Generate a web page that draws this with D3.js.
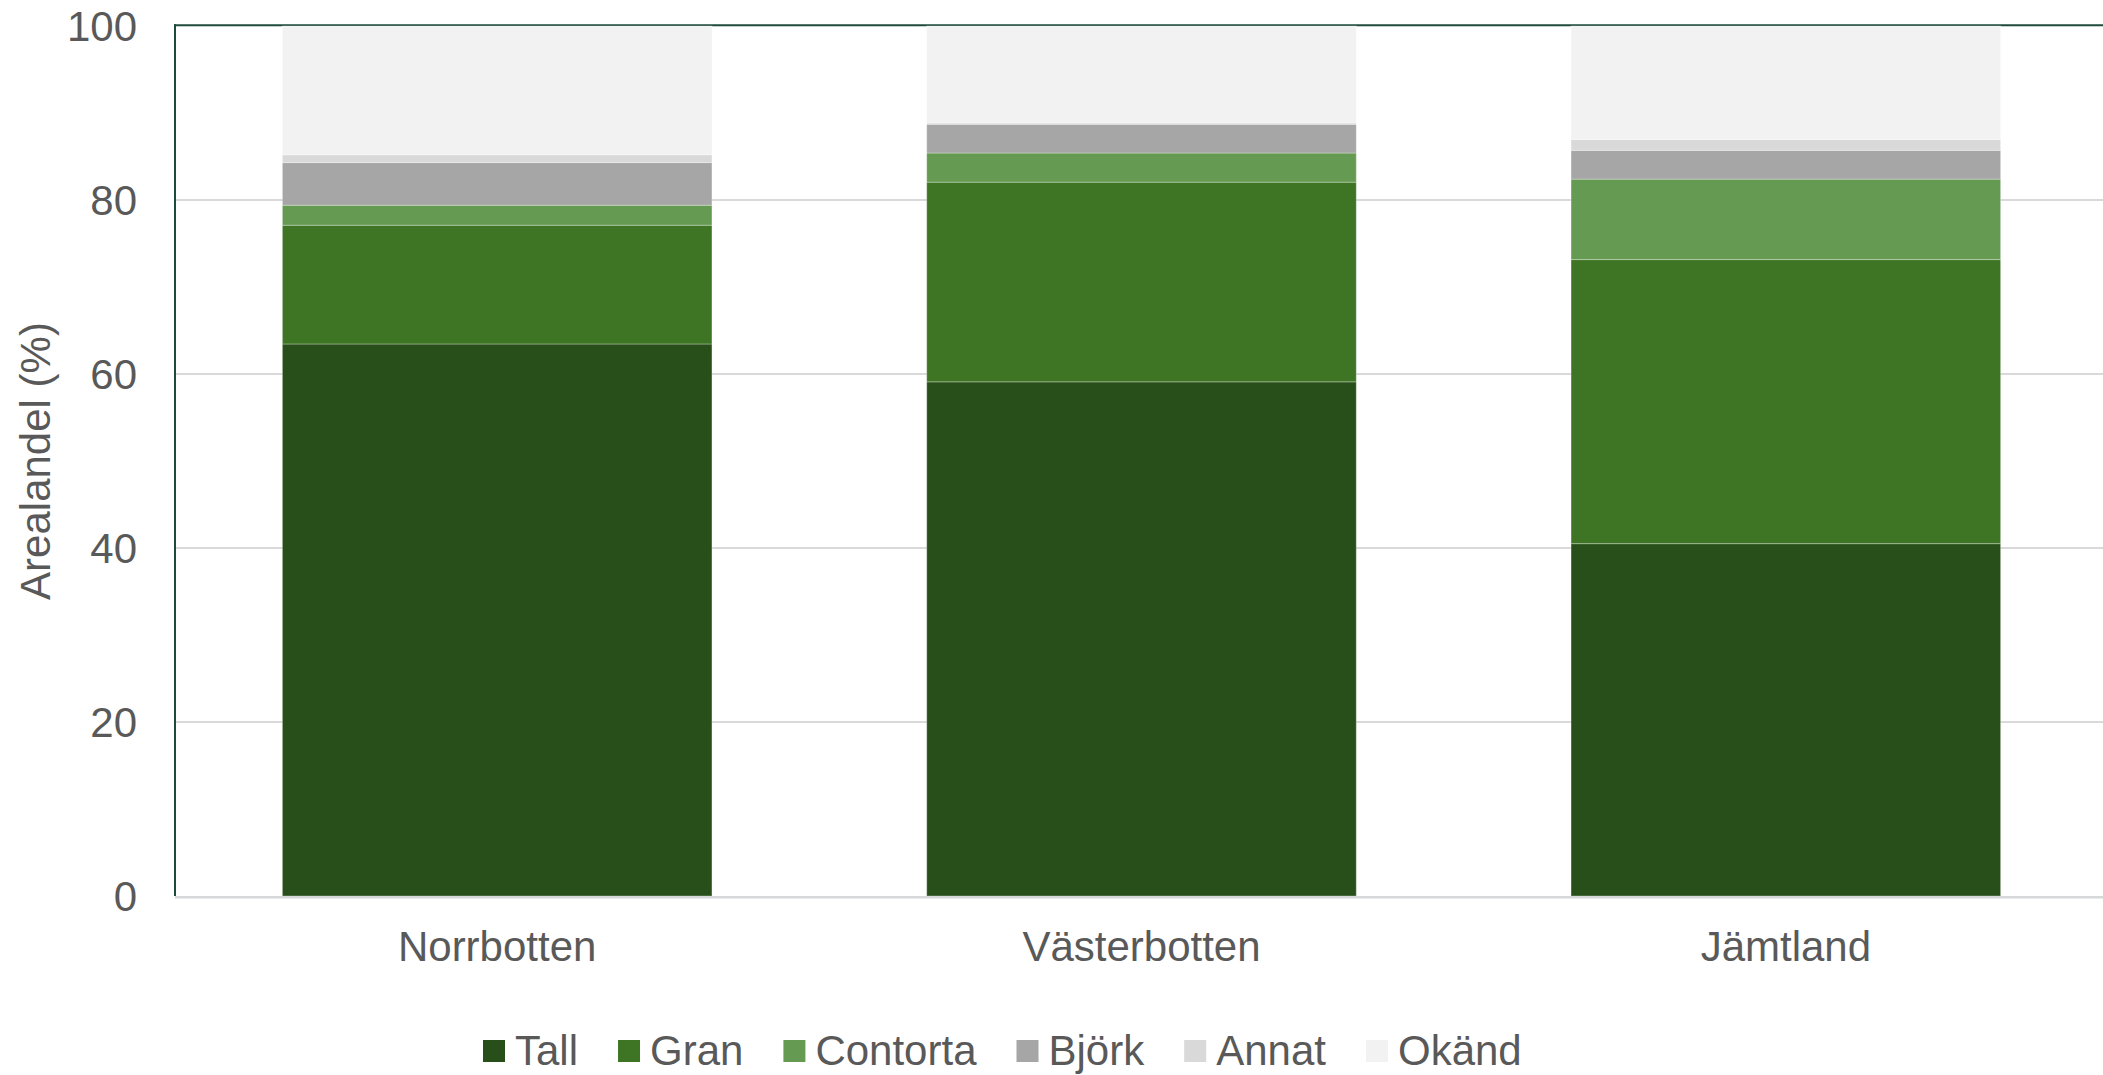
<!DOCTYPE html>
<html>
<head>
<meta charset="utf-8">
<script src="https://cdn.jsdelivr.net/npm/d3@7"></script>
<style>
  html, body { margin: 0; padding: 0; background: #ffffff; overflow: hidden; }
  svg { display: block; }
  text { font-family: "Liberation Sans", Arial, Helvetica, sans-serif; fill: #595959; }
</style>
</head>
<body>
<script>
// ---- Data ----
const categories = ["Norrbotten", "Västerbotten", "Jämtland"];
const seriesNames = ["Tall", "Gran", "Contorta", "Björk", "Annat", "Okänd"];
const tall     = [63.45, 59.1, 40.5];
const gran     = [13.65, 22.95, 32.65];
const contorta = [2.3, 3.35, 9.25];
const bjork    = [4.9, 3.3, 3.3];
const annat    = [0.9, 0.15, 1.25];
const okand    = [14.8, 11.15, 13.05];
const yTicks   = [0, 20, 40, 60, 80, 100];
const yTitle   = "Arealandel (%)";

const colors = ["#284f19", "#3d7524", "#659a52", "#a6a6a6", "#d9d9d9", "#f2f2f2"];

// ---- Build table ----
const seriesValues = [tall, gran, contorta, bjork, annat, okand];
const rows = categories.map((c, i) => {
  const r = { cat: c };
  seriesNames.forEach((s, j) => { r[s] = seriesValues[j][i]; });
  return r;
});

const W = 2103, H = 1075;
const plotLeft = 175, plotRight = 2108, plotTop = 26, plotBottom = 896;

const svg = d3.select("body").append("svg").attr("width", W).attr("height", H);

const x = d3.scaleBand().domain(categories).range([plotLeft, plotRight])
  .paddingInner(1/3).paddingOuter(1/6);
const y = d3.scaleLinear().domain([0, 100]).range([plotBottom, plotTop]);

// gridlines
svg.append("g").selectAll("line").data(yTicks.filter(t => t > 0 && t < 100)).join("line")
  .attr("x1", plotLeft).attr("x2", W)
  .attr("y1", d => y(d)).attr("y2", d => y(d))
  .attr("stroke", "#d9d9d9").attr("stroke-width", 2);

// frame: top and left dark green lines
svg.append("line").attr("x1", plotLeft - 1).attr("x2", W).attr("y1", 25.3).attr("y2", 25.3)
  .attr("stroke", "#1e4a3b").attr("stroke-width", 2);
svg.append("line").attr("x1", plotLeft).attr("x2", plotLeft).attr("y1", 24.3).attr("y2", plotBottom)
  .attr("stroke", "#1e4a3b").attr("stroke-width", 2);

// stacked bars
const stack = d3.stack().keys(seriesNames);
const stacked = stack(rows);

svg.append("g").selectAll("g").data(stacked).join("g")
  .attr("fill", (d, i) => colors[i])
  .selectAll("rect").data(d => d).join("rect")
  .attr("x", d => x(d.data.cat))
  .attr("width", x.bandwidth())
  .attr("y", d => y(d[1]))
  .attr("height", d => y(d[0]) - y(d[1]))
  .attr("stroke", "#ffffff").attr("stroke-opacity", 0.3).attr("stroke-width", 1);

// bottom axis line
svg.append("line").attr("x1", plotLeft).attr("x2", W).attr("y1", plotBottom + 1.3).attr("y2", plotBottom + 1.3)
  .attr("stroke", "#d5d9d9").attr("stroke-width", 2.6);

// y tick labels via axis
const yAxis = d3.axisLeft(y).tickValues(yTicks).tickSize(0).tickPadding(0).tickFormat(d3.format("d"));
const gy = svg.append("g").attr("transform", "translate(137,0)").call(yAxis);
gy.select(".domain").remove();
gy.selectAll("text").attr("font-size", 42).attr("fill", "#595959")
  .attr("font-family", "'Liberation Sans', Arial, sans-serif").attr("dy", "0.355em").attr("x", 0);

// x category labels via axis
const xAxis = d3.axisBottom(x).tickSize(0).tickPadding(0);
const gx = svg.append("g").attr("transform", "translate(0,0)").call(xAxis);
gx.select(".domain").remove();
gx.selectAll("text").attr("font-size", 42).attr("fill", "#595959")
  .attr("font-family", "'Liberation Sans', Arial, sans-serif")
  .attr("y", 961).attr("dy", 0);

// y title
svg.append("text").attr("transform", "translate(50,461) rotate(-90)")
  .attr("text-anchor", "middle").attr("font-size", 42).text(yTitle);

// legend
const legend = svg.append("g");
let lx = 483;
seriesNames.forEach((s, i) => {
  legend.append("rect").attr("x", lx).attr("y", 1040).attr("width", 22).attr("height", 22)
    .attr("fill", colors[i]);
  const t = legend.append("text").attr("x", lx + 32).attr("y", 1065).attr("font-size", 42).text(s);
  const w = t.node().getComputedTextLength();
  lx = lx + 32 + w + 40;
});
</script>
</body>
</html>
